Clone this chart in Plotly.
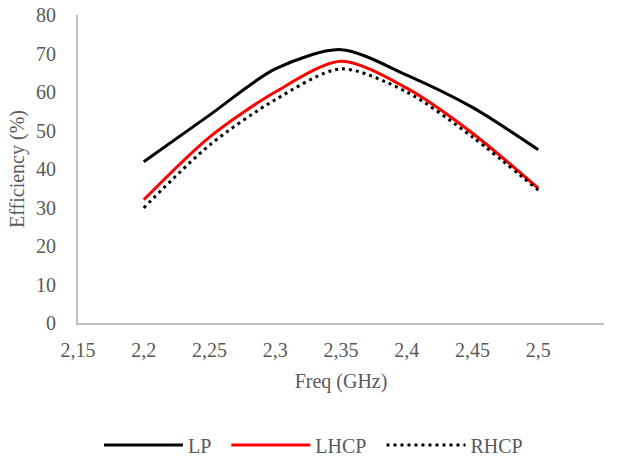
import plotly.graph_objects as go

freq = [2.2, 2.25, 2.3, 2.35, 2.4, 2.45, 2.5]
lp = [41.9, 54.0, 66.0, 71.0, 64.4, 56.0, 45.0]
lhcp = [32.0, 48.3, 60.0, 68.0, 61.0, 49.3, 35.0]
rhcp = [29.9, 46.2, 58.0, 66.0, 60.0, 48.3, 34.5]

series_names = ["LP", "LHCP", "RHCP"]
x_ticks = [2.15, 2.2, 2.25, 2.3, 2.35, 2.4, 2.45, 2.5, 2.55]
x_tick_labels = ["2,15", "2,2", "2,25", "2,3", "2,35", "2,4", "2,45", "2,5", "2,55"]
y_ticks = [0, 10, 20, 30, 40, 50, 60, 70, 80]

font = dict(family="Liberation Serif, Times New Roman, serif", size=20, color="#595959")
pad = "\u00a0\u00a0"  # extra spacing between legend entries

fig = go.Figure()
fig.add_trace(go.Scatter(x=freq, y=lp, name=series_names[0] + pad, mode="lines",
                         line=dict(color="black", width=3, shape="spline", smoothing=0.8)))
fig.add_trace(go.Scatter(x=freq, y=lhcp, name=series_names[1] + pad, mode="lines",
                         line=dict(color="#FF0000", width=3, shape="spline", smoothing=0.8)))
fig.add_trace(go.Scatter(x=freq, y=rhcp, name=series_names[2], mode="lines",
                         line=dict(color="black", width=3, shape="spline", smoothing=0.8,
                                   dash="3px,4px")))

fig.update_layout(
    width=621, height=457,
    margin=dict(l=78, r=17, t=15, b=134, autoexpand=False),
    paper_bgcolor="white", plot_bgcolor="white",
    font=font,
    showlegend=True,
    legend=dict(orientation="h", x=99 / 621, xanchor="left", xref="container",
                y=12 / 457, yanchor="middle", yref="container",
                font=font, itemwidth=79, traceorder="normal"),
)
fig.update_xaxes(range=[2.15, 2.55], tickvals=x_ticks, ticktext=x_tick_labels,
                 showgrid=False, zeroline=False, showline=True, linecolor="#BFBFBF",
                 linewidth=2, ticks="", ticklabelstandoff=8, automargin=False,
                 title=dict(text="Freq (GHz)", font=font, standoff=14))
fig.update_yaxes(range=[0, 80], tickvals=y_ticks, showgrid=False, zeroline=False,
                 showline=True, linecolor="#BFBFBF", linewidth=2, ticks="",
                 ticklabelstandoff=16, automargin=False,
                 title=dict(text="Efficiency (%)", font=font, standoff=6))

fig.write_html("out.html")
